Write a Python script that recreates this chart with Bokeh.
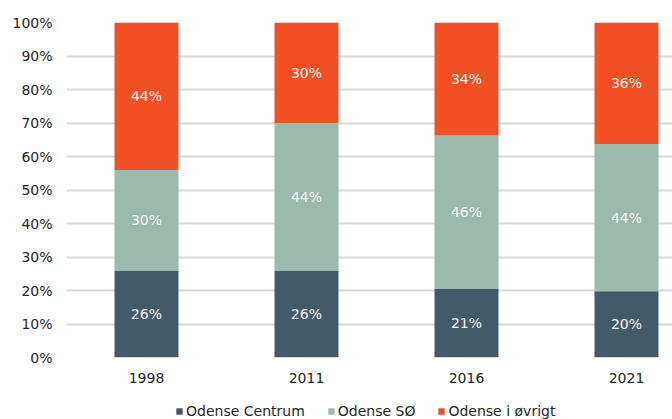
import numpy as np
from bokeh.plotting import figure
from bokeh.layouts import column
from bokeh.models import (ColumnDataSource, Range1d, FixedTicker, PrintfTickFormatter,
                          Legend, LegendItem)
from bokeh.core.properties import value
from bokeh.embed import file_html
from bokeh.resources import INLINE

years = ["1998", "2011", "2016", "2021"]
series = ["Odense Centrum", "Odense SØ", "Odense i øvrigt"]
centrum = [26.0, 26.0, 20.6, 19.8]
soe = [30.0, 44.0, 45.7, 43.9]
oevrigt = [44.0, 30.0, 33.7, 36.3]
colors = ["#455a69", "#9db8ad", "#f15024"]
y_ticks = [0, 10, 20, 30, 40, 50, 60, 70, 80, 90, 100]

FONT = "DejaVu Sans"
xs = list(range(len(years)))
src = ColumnDataSource(dict(x=xs, c=centrum, s=soe, o=oevrigt))

p = figure(width=672, height=389, output_backend="svg", toolbar_location=None,
           x_range=Range1d(-0.5, 3.2875), y_range=Range1d(0, 100),
           min_border_left=66, min_border_right=0, min_border_top=22,
           min_border_bottom=32)
p.outline_line_color = None
p.background_fill_color = "white"

rs = p.vbar_stack(["c", "s", "o"], x="x", width=0.4, source=src,
                  color=colors, line_color=None)

# segment labels
vals = np.array([centrum, soe, oevrigt])
cum = np.cumsum(vals, axis=0)
mids = cum - vals / 2
for i in range(3):
    lsrc = ColumnDataSource(dict(x=xs, y=list(mids[i]),
                                 t=[f"{round(v):d}%" for v in vals[i]]))
    p.text(x="x", y="y", text="t", source=lsrc, text_color="#f4f4f4",
           text_font=value(FONT), text_font_size="14px",
           text_align="center", text_baseline="middle")

# axes
p.xaxis.ticker = FixedTicker(ticks=xs)
p.xaxis.major_label_overrides = {i: y for i, y in enumerate(years)}
p.yaxis.ticker = FixedTicker(ticks=y_ticks)
p.yaxis.formatter = PrintfTickFormatter(format="%d%%")
for ax in (p.xaxis, p.yaxis):
    ax.axis_line_color = None
    ax.major_tick_line_color = None
    ax.minor_tick_line_color = None
    ax.major_tick_out = 0
    ax.major_tick_in = 0
    ax.major_label_text_font = FONT
    ax.major_label_text_font_size = "14px"
    ax.major_label_text_color = "#262626"
p.yaxis.major_label_standoff = 14
p.xaxis.major_label_standoff = 15

p.xgrid.grid_line_color = None
p.ygrid.ticker = FixedTicker(ticks=y_ticks)
p.ygrid.grid_line_color = "#d9d9d9"
p.ygrid.grid_line_width = 2

# legend strip (separate figure below the chart)
pl = figure(width=672, height=30, output_backend="svg", toolbar_location=None,
            x_range=Range1d(100, 101), y_range=Range1d(100, 101),
            min_border=0, min_border_left=0, min_border_right=0,
            min_border_top=0, min_border_bottom=0)
pl.axis.visible = False
pl.grid.visible = False
pl.outline_line_color = None
lrs = pl.vbar_stack(["c", "s", "o"], x="x", width=0.4, source=src,
                    color=colors, line_color=None)
legend = Legend(items=[LegendItem(label=series[i], renderers=[lrs[i]]) for i in range(3)],
                orientation="horizontal", location=(109, 0),
                label_text_font=FONT, label_text_font_size="14px",
                label_text_color="#262626",
                glyph_width=8, glyph_height=8, label_standoff=3, spacing=22,
                padding=0, margin=0, border_line_color=None,
                background_fill_alpha=0, label_height=16)
pl.add_layout(legend, "center")

layout = column(p, pl, spacing=0)
open("out.html", "w").write(file_html(layout, INLINE))
